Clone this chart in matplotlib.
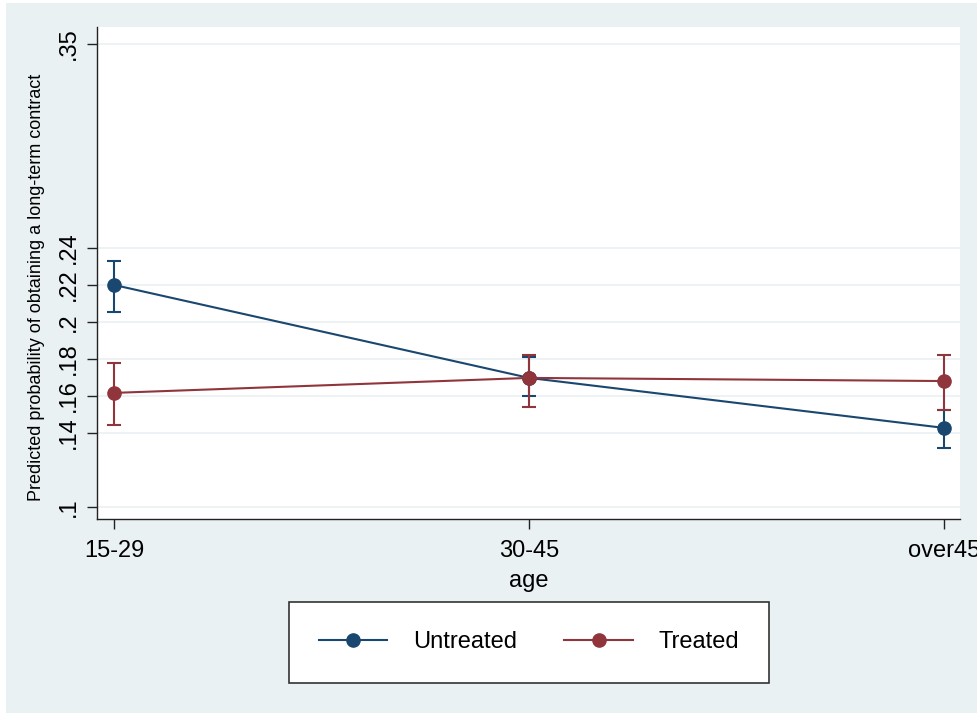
import numpy as np
import matplotlib.pyplot as plt
from matplotlib.patches import Rectangle

plt.rcParams['font.family'] = ['Liberation Sans', 'DejaVu Sans']

# Predicted margins by age group
age_groups = ["15-29", "30-45", "over45"]
untreated = [0.2199, 0.1697, 0.1427]
untreated_lo = [0.2053, 0.1600, 0.1319]
untreated_hi = [0.2328, 0.1810, 0.1524]
treated = [0.1616, 0.1697, 0.1680]
treated_lo = [0.1443, 0.1540, 0.1524]
treated_hi = [0.1778, 0.1820, 0.1820]
yticks = [0.1, 0.14, 0.16, 0.18, 0.2, 0.22, 0.24, 0.35]
ytick_labels = [".1", ".14", ".16", ".18", ".2", ".22", ".24", ".35"]

navy = "#1a476f"
maroon = "#90353b"
bg = "#eaf1f3"

fig = plt.figure(figsize=(9.77, 7.15), dpi=100, facecolor="white")
fig.patches.append(Rectangle((6 / 977, 2 / 715), 1 - 6 / 977, 1 - 5 / 715,
                             transform=fig.transFigure, facecolor=bg,
                             edgecolor="none", zorder=-10))

ax = fig.add_axes([97 / 977, 1 - 519 / 715, 863 / 977, 492 / 715])
ax.set_facecolor("white")

x = np.arange(len(age_groups))
for vals, lo, hi, col, name in [(untreated, untreated_lo, untreated_hi, navy, "Untreated"),
                                (treated, treated_lo, treated_hi, maroon, "Treated")]:
    vals = np.array(vals)
    err = [vals - np.array(lo), np.array(hi) - vals]
    ax.errorbar(x, vals, yerr=err, fmt="none", ecolor=col, elinewidth=1.5,
                capsize=5, capthick=1.5, zorder=3)
    ax.plot(x, vals, color=col, lw=1.5, marker="o", markersize=9.5,
            label=name, zorder=4)

ax.set_xlim(-0.041, 2.0386)
ax.set_ylim(0.0935, 0.3592)
ax.set_xticks(x)
ax.set_xticklabels(age_groups, fontsize=17)
ax.set_yticks(yticks)
ax.set_yticklabels(ytick_labels, fontsize=17, rotation=90, va="center")
ax.yaxis.grid(True, color="#eaf0f2", lw=1.2)
ax.set_axisbelow(True)
ax.tick_params(axis="both", length=7, width=1.0, color="#222222", pad=5)
ax.tick_params(axis="x", pad=8)
for side in ["top", "right"]:
    ax.spines[side].set_visible(False)
for side in ["left", "bottom"]:
    ax.spines[side].set_color("#222222")
    ax.spines[side].set_linewidth(1.0)

ax.set_xlabel("age", fontsize=17, labelpad=6)
ax.set_ylabel("Predicted probability of obtaining a long-term contract",
              fontsize=13)
ax.yaxis.set_label_coords(-52 / 863, 0.47)

leg = fig.legend(loc="center", ncol=2,
                 bbox_to_anchor=(529 / 977, 1 - 642.5 / 715),
                 fontsize=17, frameon=True, fancybox=False, framealpha=1,
                 facecolor="white",
                 handlelength=2.9, columnspacing=2.0, handletextpad=1.1,
                 borderpad=1.25, borderaxespad=0)
leg.get_frame().set_edgecolor("#333333")
leg.get_frame().set_linewidth(1.2)

fig.savefig("out.png", dpi=100, facecolor=fig.get_facecolor())
